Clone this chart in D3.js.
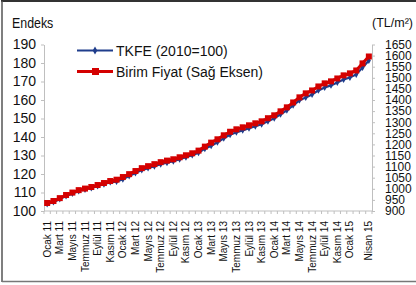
<!DOCTYPE html>
<html>
<head>
<meta charset="utf-8">
<script src="https://cdn.jsdelivr.net/npm/d3@7"></script>
<style>
  html, body { margin: 0; padding: 0; background: #fff; }
  svg { display: block; font-family: "Liberation Sans", Arial, sans-serif; }
</style>
</head>
<body>
<svg id="chart" width="416" height="285"></svg>
<script>
// ---- data ----
const monthNames = ["Ocak","Şubat","Mart","Nisan","Mayıs","Haziran","Temmuz","Ağustos","Eylül","Ekim","Kasım","Aralık"];
const years = ["11","12","13","14","15"];
const months = [];
years.forEach(y => monthNames.forEach(m => months.push(m + " " + y)));
months.splice(52); // Ocak 11 .. Nisan 15

const tickLabels = ["Ocak 11","Mart 11","Mayıs 11","Temmuz 11","Eylül 11","Kasım 11",
  "Ocak 12","Mart 12","Mayıs 12","Temmuz 12","Eylül 12","Kasım 12",
  "Ocak 13","Mart 13","Mayıs 13","Temmuz 13","Eylül 13","Kasım 13",
  "Ocak 14","Mart 14","Mayıs 14","Temmuz 14","Eylül 14","Kasım 14",
  "Ocak 15","Nisan 15"];

// TKFE (2010=100) – left axis
const tkfe = [103.8,104.8,106.5,108.1,109.4,110.8,111.6,112.4,113.5,114.5,115.6,115.9,
  117.2,118.9,120.5,122.1,123.2,124.2,125.3,126.1,126.9,128.0,129.1,130.2,
  131.5,133.7,135.3,137.2,139.3,141.2,142.6,143.6,144.7,145.8,146.9,148.5,
  150.1,152.3,154.4,157.1,159.8,161.4,163.0,165.2,166.8,167.9,169.5,171.1,
  172.2,173.8,177.6,181.4];

// Birim Fiyat (TL/m²) – right axis
const birimFiyat = [936,945,958,972,983,994,1001,1008,1017,1026,1035,1041,
  1053,1066,1080,1093,1102,1111,1120,1127,1133,1142,1151,1160,
  1172,1190,1208,1223,1241,1257,1268,1277,1286,1295,1304,1318,
  1331,1349,1367,1389,1412,1430,1443,1461,1475,1484,1497,1511,
  1520,1533,1565,1596];

const leftTicks = [100,110,120,130,140,150,160,170,180,190];
const rightTicks = [900,950,1000,1050,1100,1150,1200,1250,1300,1350,1400,1450,1500,1550,1600,1650];

// ---- drawing ----
const svg = d3.select("#chart");
const axisColor = "#bfbfbf";
const blue = "#1f3d8c";
const red = "#d40000";

// outer frame
svg.append("line").attr("x1",1).attr("x2",416).attr("y1",1).attr("y2",1).attr("stroke","#333").attr("stroke-width",2);
svg.append("line").attr("x1",2).attr("x2",2).attr("y1",1).attr("y2",282).attr("stroke","#555").attr("stroke-width",1.5);
svg.append("line").attr("x1",2).attr("x2",416).attr("y1",281.5).attr("y2",281.5).attr("stroke","#777").attr("stroke-width",1.5);

const x = d3.scaleBand().domain(months).range([44, 372]);
const bw = x.bandwidth();
const cx = m => x(m) + bw / 2;
const yL = d3.scaleLinear().domain([100, 190]).range([211, 44.5]);
const yR = d3.scaleLinear().domain([900, 1650]).range([211, 44.5]);

// left axis
const gL = svg.append("g").attr("transform", "translate(44,0)")
  .call(d3.axisLeft(yL).tickValues(leftTicks).tickFormat(d3.format("d"))
    .tickSize(3).tickSizeOuter(0).tickPadding(5));
gL.select(".domain").attr("stroke", axisColor);
gL.selectAll(".tick line").attr("stroke", axisColor);
gL.selectAll(".tick text").attr("font-size", 14).attr("fill", "#111")
  .attr("font-family", "'Liberation Sans', Arial, sans-serif");

// right axis
const gR = svg.append("g").attr("transform", "translate(372,0)")
  .call(d3.axisRight(yR).tickValues(rightTicks).tickFormat(d3.format("d"))
    .tickSize(3).tickSizeOuter(0).tickPadding(10));
gR.select(".domain").attr("stroke", axisColor);
gR.selectAll(".tick line").attr("stroke", axisColor);
gR.selectAll(".tick text").attr("font-size", 12).attr("fill", "#111")
  .attr("font-family", "'Liberation Sans', Arial, sans-serif");

// bottom axis
const gB = svg.append("g");
gB.append("line").attr("x1", 44).attr("x2", 372).attr("y1", 211).attr("y2", 211).attr("stroke", axisColor);
gB.selectAll("line.mt").data(months.concat(["_end"])).enter().append("line")
  .attr("class", "mt")
  .attr("x1", (d, i) => 44 + i * bw).attr("x2", (d, i) => 44 + i * bw)
  .attr("y1", 211).attr("y2", 214).attr("stroke", axisColor);
gB.selectAll("text").data(tickLabels).enter().append("text")
  .attr("transform", d => `translate(${cx(d) + 3.5},221) rotate(-90)`)
  .attr("text-anchor", "end")
  .attr("font-size", 10)
  .attr("fill", "#111")
  .text(d => d);

// titles
svg.append("text").attr("transform", "translate(12,28) scale(0.8,1)")
  .attr("font-size", 15.5).attr("fill", "#111").text("Endeks");
svg.append("text").attr("x", 372).attr("y", 27)
  .attr("font-size", 12.5).attr("fill", "#111").text("(TL/m²)");

// series
const lineL = d3.line().x((d, i) => cx(months[i])).y(d => yL(d));
const lineR = d3.line().x((d, i) => cx(months[i])).y(d => yR(d));

svg.append("path").datum(tkfe).attr("d", lineL).attr("fill", "none")
  .attr("stroke", blue).attr("stroke-width", 2.2);
svg.selectAll("path.bm").data(tkfe).enter().append("path").attr("class", "bm")
  .attr("transform", (d, i) => `translate(${cx(months[i])},${yL(d)})`)
  .attr("d", d3.symbol().type(d3.symbolDiamond).size(14)).attr("fill", blue);

svg.append("path").datum(birimFiyat).attr("d", lineR).attr("fill", "none")
  .attr("stroke", red).attr("stroke-width", 3);
svg.selectAll("rect.rm").data(birimFiyat).enter().append("rect").attr("class", "rm")
  .attr("x", (d, i) => cx(months[i]) - 3).attr("y", d => yR(d) - 3)
  .attr("width", 6).attr("height", 6).attr("fill", red);

// legend
const legend = [
  { label: "TKFE (2010=100)", color: blue, y: 50.5, sq: false },
  { label: "Birim Fiyat (Sağ Eksen)", color: red, y: 71.5, sq: true }
];
const lg = svg.append("g");
legend.forEach(l => {
  lg.append("line").attr("x1", 77).attr("x2", 113).attr("y1", l.y).attr("y2", l.y)
    .attr("stroke", l.color).attr("stroke-width", l.sq ? 3 : 2.2);
  if (l.sq) {
    lg.append("rect").attr("x", 92).attr("y", l.y - 3.5).attr("width", 7).attr("height", 7).attr("fill", l.color);
  } else {
    lg.append("path").attr("transform", `translate(95,${l.y})`)
      .attr("d", d3.symbol().type(d3.symbolDiamond).size(18)).attr("fill", l.color);
  }
  lg.append("text").attr("x", 116).attr("y", l.y + 5).attr("font-size", 14).attr("fill", "#111").text(l.label);
});
</script>
</body>
</html>
